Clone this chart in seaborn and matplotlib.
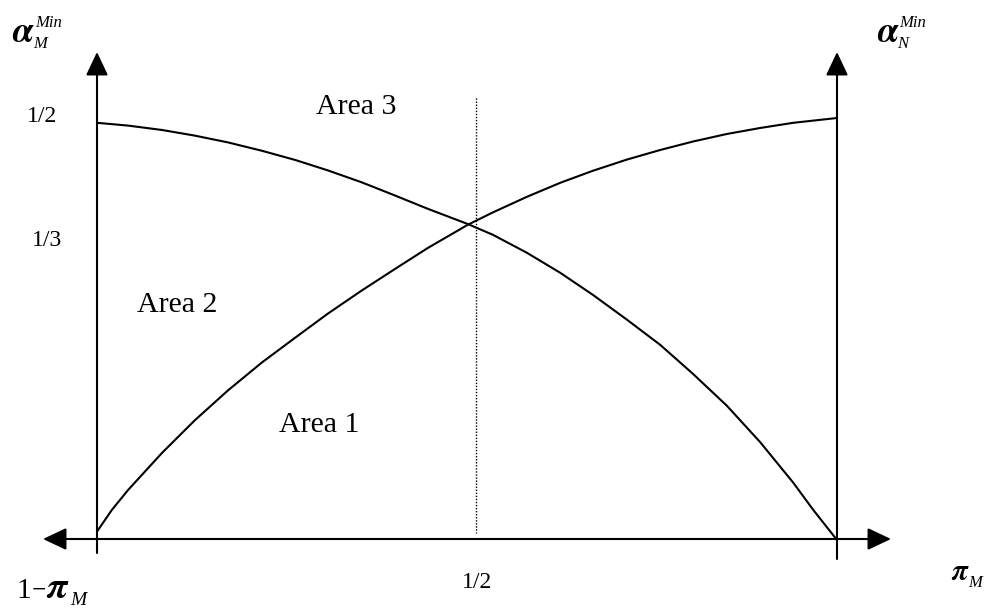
import matplotlib
matplotlib.use("Agg")
import pandas as pd
import matplotlib.pyplot as plt
import seaborn as sns

# curve readings: x runs from the left axis (0) to the right axis (1)
pi_m = [0, .042, .088, .132, .177, .223, .268, .312, .358, .403, .447, .501,
        .535, .581, .626, .670, .716, .761, .805, .851, .896, .941, .968, 1.0]
alpha_m_min = [1.043, 1.036, 1.025, 1.011, .994, .973, .950, .924, .894, .861, .828, .790,
               .763, .718, .668, .613, .551, .488, .416, .336, .245, .143, .075, 0]

pi_n = [0, .020, .042, .088, .132, .177, .223, .268, .312, .358, .403, .447,
        .501, .535, .581, .626, .670, .716, .761, .805, .851, .896, .941, 1.0]
alpha_n_min = [.021, .075, .125, .218, .299, .374, .444, .506, .566, .624, .678, .730,
               .788, .819, .858, .893, .923, .951, .975, .996, 1.015, 1.030, 1.043, 1.055]

left_ticks = ["1/2", "1/3"]
bottom_tick = "1/2"
area_labels = ["Area 1", "Area 2", "Area 3"]

sns.set_theme(style="white")
plt.rcParams["font.family"] = ["Liberation Serif", "DejaVu Serif"]
plt.rcParams["text.color"] = "black"
plt.rcParams["mathtext.fontset"] = "stix"

fig = plt.figure(figsize=(9.9, 6.1), dpi=100)
ax = fig.add_axes([0, 0, 1, 1])
ax.set_xlim(-97 / 740, 893 / 740)
ax.set_ylim(-70 / 400, 540 / 400)
ax.axis("off")


def px(x, y):
    # picture pixel -> data coords
    return ((x - 97) / 740, (540 - y) / 400)


df_m = pd.DataFrame({"pi": pi_m, "alpha": alpha_m_min})
df_n = pd.DataFrame({"pi": pi_n, "alpha": alpha_n_min})
for d in (df_m, df_n):
    sns.lineplot(data=d, x="pi", y="alpha", color="black", lw=1.5, sort=False,
                 solid_joinstyle="round", ax=ax)

# axes with arrow heads
arrow = dict(arrowstyle="-|>,head_length=0.72,head_width=0.34", mutation_scale=20,
             color="black", lw=1.5, shrinkA=0, shrinkB=0)
arrow2 = dict(arrow, arrowstyle="<|-|>,head_length=0.72,head_width=0.34")
ax.annotate("", xy=px(891, 539), xytext=px(43, 539), arrowprops=arrow2)
ax.annotate("", xy=px(97, 52), xytext=px(97, 553), arrowprops=arrow)
ax.annotate("", xy=px(837, 52), xytext=px(837, 559), arrowprops=arrow)

# dotted line at 1/2
x0, y0 = px(476, 98)
x1, y1 = px(476, 533)
ax.plot([x0, x1], [y0, y1], color="black", lw=1, linestyle=(0, (1, 1.2)))

# axis titles
greek = dict(family="STIXGeneral", style="italic", weight="bold", ha="left", va="baseline")
small = dict(style="italic", ha="left", va="baseline")
ax.text(*px(12, 42), "\u03b1", fontsize=26, **greek)
ax.text(*px(35, 27), "Min", fontsize=12, **small)
ax.text(*px(33, 48), "M", fontsize=12, **small)
ax.text(*px(877, 42), "\u03b1", fontsize=26, **greek)
ax.text(*px(899, 27), "Min", fontsize=12, **small)
ax.text(*px(897, 48), "N", fontsize=12, **small)

ax.text(*px(16, 598), "1", fontsize=21, ha="left", va="baseline")
ax.text(*px(31, 593), r"$-$", fontsize=15, ha="left", va="baseline")
ax.text(*px(46, 598), "\u03c0", fontsize=27, **greek)
ax.text(*px(70, 605), "M", fontsize=14, **small)
ax.text(*px(951, 580), "\u03c0", fontsize=21, **greek)
ax.text(*px(968, 587), "M", fontsize=12, **small)

# tick labels
ax.text(*px(42, 117), left_ticks[0], fontsize=17, ha="center", va="center")
ax.text(*px(47, 241), left_ticks[1], fontsize=17, ha="center", va="center")
ax.text(*px(477, 582), bottom_tick, fontsize=17, ha="center", va="center")

# regions
ax.text(*px(319, 425), area_labels[0], fontsize=21.5, ha="center", va="center")
ax.text(*px(177, 305), area_labels[1], fontsize=21.5, ha="center", va="center")
ax.text(*px(356, 107), area_labels[2], fontsize=21.5, ha="center", va="center")

fig.savefig("out.png", dpi=100)
